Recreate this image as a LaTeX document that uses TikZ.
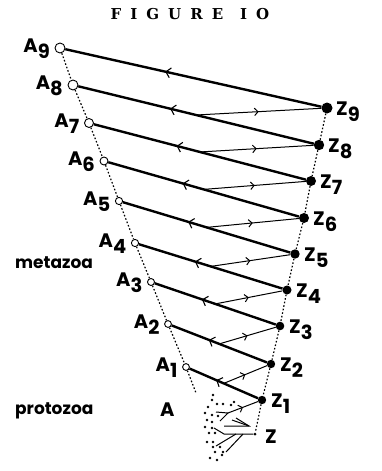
\documentclass[tikz,border=0pt]{standalone}
\usepackage{fontspec}
\setmainfont{Poppins}
\newfontfamily\titlefont{DejaVu Serif}
\usetikzlibrary{decorations.markings,arrows.meta}
\newcommand\lowd[1]{\raisebox{-6.5pt}{#1}}
\tikzset{
  acirc/.style={circle,draw,fill=white,inner sep=0pt,line width=0.9pt},
  zdot/.style={circle,fill,inner sep=0pt},
  lab/.style={inner sep=0pt,font=\bfseries\fontsize{19.5}{19.5}\selectfont},
  tlab/.style={inner sep=0pt,font=\bfseries\fontsize{17}{17}\selectfont},
  thickln/.style={line width=2.4pt,postaction={decorate},
    decoration={markings,mark=at position 0.61 with {\arrow{Straight Barb[length=4.5pt,width=10pt,line width=1.1pt]}}}},
  thinln/.style={line width=1pt,postaction={decorate},
    decoration={markings,mark=at position 0.5 with {\arrow{Straight Barb[length=3.5pt,width=7.5pt,line width=1pt]}}}},
  plainthin/.style={line width=1pt},
  dotln/.style={line width=1.2pt,dash pattern=on 1.6pt off 2pt},
}
\begin{document}
\begin{tikzpicture}[x=1pt,y=-1pt]
\useasboundingbox (0,0) rectangle (382,471);
\node[font=\titlefont\bfseries\fontsize{15}{15}\selectfont,inner sep=0pt] (title) at (190,14)
  {F\kern9pt I\kern9pt G\kern9pt U\kern9pt R\kern9pt E\kern17pt I\kern9pt O};
% A points
\foreach \i/\x/\y/\r in {9/60/48/5,8/73/85/5,7/89/123/4.5,6/104/161/4,5/119/201/3.6,4/135/243/3.6,3/151/282/3.5,2/168/324/3.4,1/186/367/3.4}{
  \node[acirc,minimum size=\r*2pt] (A\i) at (\x,\y) {};
  \node[lab,anchor=base east] (LA\i) at (\x-\r-5,\y+4) {A\lowd{\i}};
}
% Z points
\foreach \i/\x/\y/\r in {9/327/108/5.5,8/319/145/5.2,7/311/181/5,6/304/218/5,5/295/254/4.7,4/287/290/4.5,3/280/326/4.3,2/271/364/4.2,1/262/400/4.2}{
  \node[zdot,minimum size=\r*2pt] (Z\i) at (\x,\y) {};
  \node[lab,anchor=base west] (LZ\i) at (\x+9,\y+7) {Z\lowd{\i}};
}
\node[zdot,minimum size=3pt] (Z0) at (255,434) {};
\node[lab,anchor=base west] (LZ0) at (265,443) {Z};
\node[lab,anchor=base west] (LA0) at (160,416) {A};
\node[tlab,anchor=base west] (meta) at (15,268) {metazoa};
\node[tlab,anchor=base west] (proto) at (15,414) {protozoa};
\coordinate (Aend) at (196,393);
% dotted / dashed guide lines
\draw[dotln] (A9) -- (A8) -- (A7) -- (A6) -- (A5) -- (A4) -- (A3) -- (A2) -- (A1) -- (Aend);
\draw[dotln] (Z9) -- (Z8) -- (Z7) -- (Z6) -- (Z5) -- (Z4) -- (Z3) -- (Z2) -- (Z1) -- (Z0);
% thick lines
\foreach \i in {1,...,9}{
  \draw[thickln] (Z\i) -- (A\i);
}
% thin lines
\foreach \i [evaluate=\i as \j using int(\i+1)] in {1,...,8}{
  \path (A\i) -- coordinate[pos=0.5] (S\j) (Z\i);
  \draw[thinln] (S\j) -- (Z\j);
}
% tree at the bottom
\coordinate (T1) at (228,413);
\coordinate (T2) at (216,412);
\coordinate (T3) at (220,421);
\coordinate (T4) at (236,418);
\coordinate (T5) at (224,426);
\coordinate (T6) at (249,426);
\coordinate (T7) at (224,434);
\coordinate (T8) at (214,428);
\coordinate (T9) at (236,434);
\coordinate (T10) at (216,446);
\coordinate (T11) at (243,434);
\coordinate (T12) at (226,452);
\coordinate (T13) at (232,420);
\draw[thinln] (T1) -- (Z1);
\draw[plainthin] (T2) -- (T1) -- (T3);
\draw[plainthin] (T5) -- (T6) -- (T4);
\draw[plainthin] (T13) -- (T6);
\draw[plainthin] (Z0) -- (T7) -- (T8);
\draw[plainthin] (T9) -- (T10);
\draw[plainthin] (T11) -- (T12);
% dots of the protozoa cluster
\foreach \x/\y in {213/395,212/400,217/404,223/404,231/405,234/402,208/407,205/413,212/415,218/416,207/420,212/422,205/427,212/428,215/433,209/433,207/442,213/442,213/447,220/447,215/452,223/452,210/458,217/460,222/455}{
  \fill (\x,\y) circle (1.4pt);
}
\end{tikzpicture}
\end{document}
